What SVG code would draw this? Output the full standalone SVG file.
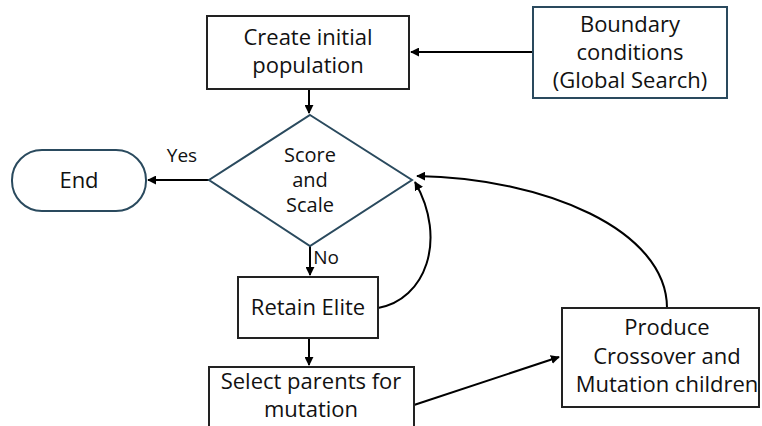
<svg xmlns="http://www.w3.org/2000/svg" width="762" height="426" viewBox="0 0 762 426">
<style>
  .box { fill: #ffffff; stroke: #222222; stroke-width: 2; }
  .blue { fill: #ffffff; stroke: #2a4a5e; stroke-width: 2; }
  .t { font-family: "Open Sans", "Liberation Sans", sans-serif; font-size: 22px; fill: #111111; text-anchor: middle; }
  .d { font-family: "Open Sans", "Liberation Sans", sans-serif; font-size: 20px; fill: #111111; text-anchor: middle; }
  .s { font-family: "Open Sans", "Liberation Sans", sans-serif; font-size: 19px; fill: #111111; text-anchor: middle; }
  .c { fill: none; stroke: #000000; stroke-width: 2; }
</style>
<defs>
  <marker id="ah" viewBox="0 0 10 10" refX="9" refY="5" markerWidth="4.5" markerHeight="4.5" markerUnits="strokeWidth" orient="auto">
    <path d="M0,0 L10,5 L0,10 z" fill="#000000"/>
  </marker>
</defs>
<rect x="0" y="0" width="762" height="426" fill="#ffffff"/>

<g id="connectors">
  <line class="c" x1="533" y1="52" x2="411" y2="52" marker-end="url(#ah)"/>
  <line class="c" x1="309" y1="89" x2="309" y2="113" marker-end="url(#ah)"/>
  <line class="c" x1="209" y1="180" x2="148" y2="180" marker-end="url(#ah)"/>
  <line class="c" x1="310" y1="246" x2="310" y2="275" marker-end="url(#ah)"/>
  <line class="c" x1="309" y1="338" x2="309" y2="365" marker-end="url(#ah)"/>
  <line class="c" x1="414" y1="405" x2="559" y2="357" marker-end="url(#ah)"/>
  <path class="c" d="M378,308 C425,300 448,240 415,182" marker-end="url(#ah)"/>
  <path class="c" d="M667,308 C667,230 545,178 417,176" marker-end="url(#ah)"/>
</g>

<g id="create">
  <rect class="box" x="207" y="16" width="202" height="73"/>
  <text class="t" x="308" y="45">Create initial</text>
  <text class="t" x="308" y="73">population</text>
</g>

<g id="boundary">
  <rect class="blue" x="533" y="7" width="194" height="91"/>
  <text class="t" x="630" y="32">Boundary</text>
  <text class="t" x="630" y="60">conditions</text>
  <text class="t" x="630" y="88">(Global Search)</text>
</g>

<g id="score">
  <polygon class="blue" points="310,115 412,180 310,246 209,180" stroke-width="1.5"/>
  <text class="d" x="310" y="162">Score</text>
  <text class="d" x="310" y="187">and</text>
  <text class="d" x="310" y="212">Scale</text>
</g>

<g id="end">
  <rect class="blue" x="12" y="150" width="134" height="61" rx="30" ry="30"/>
  <text class="t" x="79" y="188">End</text>
</g>

<g id="labels">
  <text class="s" x="182" y="162">Yes</text>
  <text class="s" x="326" y="264">No</text>
</g>

<g id="retain">
  <rect class="box" x="238" y="277" width="140" height="61"/>
  <text class="t" x="308" y="315">Retain Elite</text>
</g>

<g id="select">
  <rect class="box" x="209" y="367" width="205" height="70"/>
  <text class="t" x="311" y="389">Select parents for</text>
  <text class="t" x="311" y="417">mutation</text>
</g>

<g id="produce">
  <rect class="box" x="562" y="308" width="197" height="99"/>
  <text class="t" x="667" y="335">Produce</text>
  <text class="t" x="667" y="364">Crossover and</text>
  <text class="t" x="667" y="392">Mutation children</text>
</g>
</svg>
